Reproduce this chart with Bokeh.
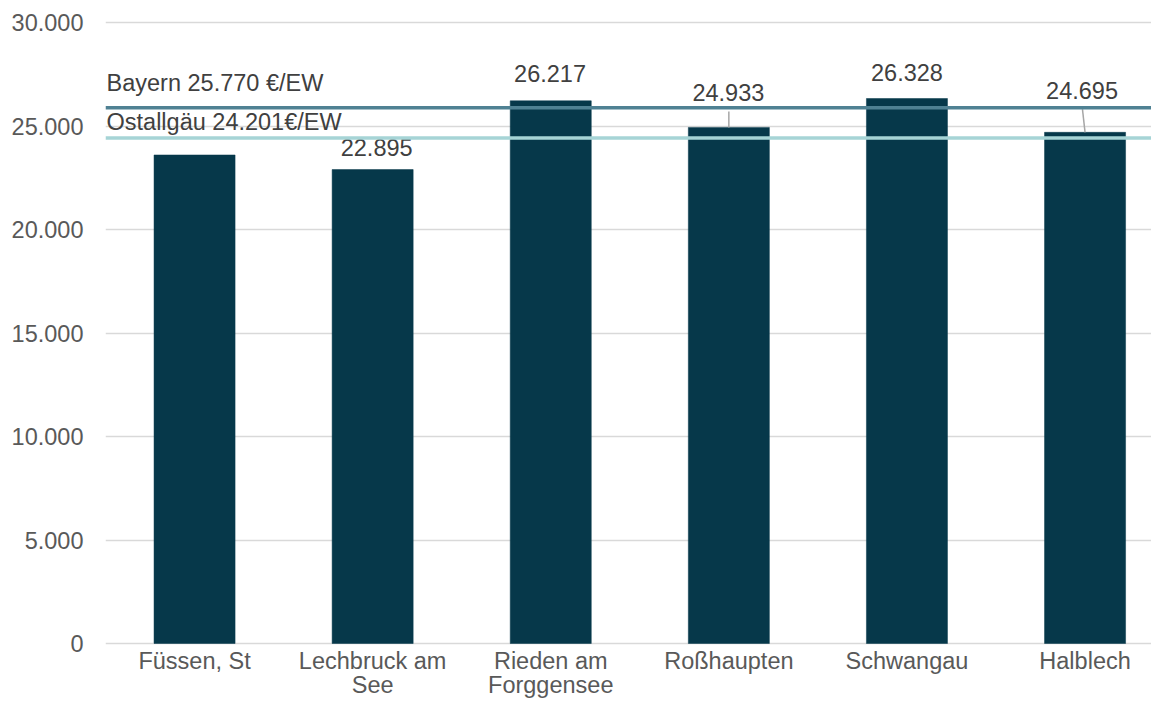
from bokeh.plotting import figure
from bokeh.models import Range1d, FixedTicker, Span, ColumnDataSource
from bokeh.core.properties import value
from bokeh.embed import file_html
from bokeh.resources import INLINE

# ---- data ----
categories = ["Füssen, St", "Lechbruck am\nSee", "Rieden am\nForggensee",
              "Roßhaupten", "Schwangau", "Halblech"]
values = [23600, 22895, 26217, 24933, 26328, 24695]
show_label = [False, True, True, True, True, True]
bayern_value = 25880
bayern_text = "Bayern 25.770 €/EW"
ostallgaeu_value = 24420
ostallgaeu_text = "Ostallgäu 24.201€/EW"
y_ticks = [0, 5000, 10000, 15000, 20000, 25000, 30000]
y_tick_labels = ["0", "5.000", "10.000", "15.000", "20.000", "25.000", "30.000"]

# ---- styling / layout ----
FONT = "Liberation Sans"
FS = "23.5px"
BAR_COLOR = "#06384a"
BAYERN_COLOR = "#4f8193"
OSTALL_COLOR = "#a6d4d6"
VALUE_COLOR = "#404040"
AXIS_COLOR = "#595959"
GRID_COLOR = "#d9d9d9"

W, H = 1151, 700
LEFT, TOP = 105, 20
Y_TOP_PX, Y_ZERO_PX = 22.0, 643.0
PX_PER_UNIT = (Y_ZERO_PX - Y_TOP_PX) / 30000.0
PX_PER_CAT = 178.1
BASE_FIX = -9.5          # correction for alphabetic baseline placement

y_end = 30000 + (Y_TOP_PX - TOP) / PX_PER_UNIT
y_start = -(H - Y_ZERO_PX) / PX_PER_UNIT
x_end = (W - LEFT) / PX_PER_CAT

# label offsets (pixels): dx, dy of baseline relative to bar top
label_dx = [0, 4, -0.7, -0.5, 0, -3]
label_dy = [0, -12.7, -17.4, -25.6, -17, -32.7]
# leader lines (pixels above bar top, x shift at top)
leader_len = [0, 0, 0, 16, 0, 23.2]
leader_dx = [0, 0, 0, 0, 0, -2.6]

xs = [i + 0.5 for i in range(len(categories))]

p = figure(width=W, height=H, output_backend="svg", toolbar_location=None,
           x_axis_location=None,
           x_range=Range1d(0, x_end), y_range=Range1d(y_start, y_end),
           min_border_left=LEFT, min_border_right=0, min_border_top=TOP,
           min_border_bottom=0)
p.outline_line_color = None
p.background_fill_color = "white"
p.border_fill_color = "white"

# grid
p.xgrid.visible = False
p.ygrid.ticker = FixedTicker(ticks=y_ticks)
p.ygrid.grid_line_color = GRID_COLOR
p.ygrid.grid_line_width = 1.3

# y axis
yax = p.yaxis[0]
yax.ticker = FixedTicker(ticks=y_ticks)
yax.major_label_overrides = {t: l for t, l in zip(y_ticks, y_tick_labels)}
yax.axis_line_color = None
yax.major_tick_line_color = None
yax.minor_tick_line_color = None
yax.major_tick_out = 0
yax.major_tick_in = 0
yax.major_label_standoff = 22
yax.major_label_text_font = FONT
yax.major_label_text_font_size = FS
yax.major_label_text_color = AXIS_COLOR

# bars
p.vbar(x=xs, top=values, bottom=0, width=0.455, fill_color=BAR_COLOR,
       line_color=BAR_COLOR, line_width=0.5)

# leader lines
lx0, ly0, lx1, ly1 = [], [], [], []
for x, v, ln, dx in zip(xs, values, leader_len, leader_dx):
    if ln > 0:
        lx0.append(x)
        ly0.append(v)
        lx1.append(x + dx / PX_PER_CAT)
        ly1.append(v + ln / PX_PER_UNIT)
p.segment(x0=lx0, y0=ly0, x1=lx1, y1=ly1, line_color="#a6a6a6", line_width=1.5)

# value labels
lab = dict(x=[], y=[], t=[], dx=[], dy=[])
for x, v, s, dx, dy in zip(xs, values, show_label, label_dx, label_dy):
    if s:
        lab["x"].append(x)
        lab["y"].append(v)
        lab["t"].append(f"{v:,}".replace(",", "."))
        lab["dx"].append(dx)
        lab["dy"].append(dy + BASE_FIX)
src = ColumnDataSource(lab)
p.text(x="x", y="y", text="t", x_offset="dx", y_offset="dy", source=src,
       text_align="center", text_baseline="alphabetic",
       text_font=value(FONT), text_font_size=FS, text_color=VALUE_COLOR)

# category labels (two lines max)
line1 = [c.split("\n")[0] for c in categories]
line2 = [c.split("\n")[1] if "\n" in c else "" for c in categories]
p.text(x=xs, y=[0] * len(xs), text=line1, y_offset=27 + BASE_FIX,
       text_align="center", text_baseline="alphabetic",
       text_font=value(FONT), text_font_size=FS, text_color=AXIS_COLOR)
p.text(x=xs, y=[0] * len(xs), text=line2, y_offset=51 + BASE_FIX,
       text_align="center", text_baseline="alphabetic",
       text_font=value(FONT), text_font_size=FS, text_color=AXIS_COLOR)

# reference lines
p.add_layout(Span(location=bayern_value, dimension="width",
                  line_color=BAYERN_COLOR, line_width=3.5))
p.add_layout(Span(location=ostallgaeu_value, dimension="width",
                  line_color=OSTALL_COLOR, line_width=3.5))
p.text(x=[0, 0], y=[bayern_value, ostallgaeu_value],
       text=[bayern_text, ostallgaeu_text], x_offset=[1, 1],
       y_offset=[-15.2 + BASE_FIX, -7 + BASE_FIX],
       text_align="left", text_baseline="alphabetic",
       text_font=value(FONT), text_font_size=FS, text_color=VALUE_COLOR)

open("out.html", "w").write(file_html(p, INLINE))
